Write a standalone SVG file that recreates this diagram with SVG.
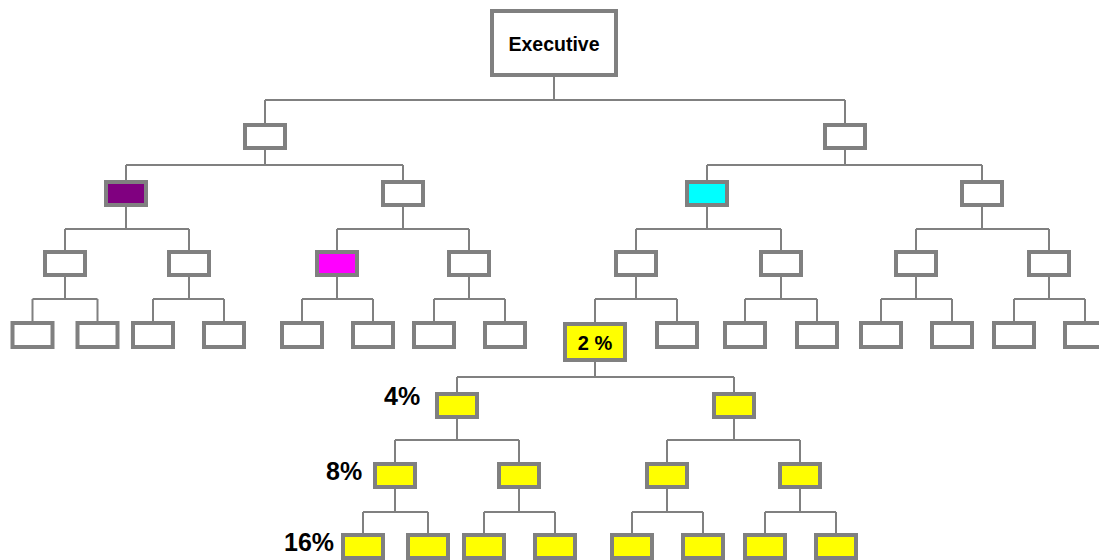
<svg xmlns="http://www.w3.org/2000/svg" width="1099" height="560" viewBox="0 0 1099 560">
<style>
.b{fill:#fff;stroke:#808080;stroke-width:4}
.y{fill:#ffff00}
.p{fill:#800080}
.m{fill:#ff00ff}
.c{fill:#00ffff}
.ln{fill:none;stroke:#808080;stroke-width:2}
.t{font-family:"Liberation Sans",Arial,sans-serif;font-weight:bold;fill:#000}
</style>
<rect width="1099" height="560" fill="#fff"/>
<g id="connectors" class="ln">
<path d="M554 77V100M265 100H845M265 100V123M845 100V123"/>
<path d="M265 150V165M126 165H403M126 165V180M403 165V180"/>
<path d="M845 150V165M707 165H982M707 165V180M982 165V180"/>
<path d="M126 207V229M65 229H189M65 229V250M189 229V250"/>
<path d="M403 207V229M337 229H469M337 229V250M469 229V250"/>
<path d="M707 207V229M636 229H781M636 229V250M781 229V250"/>
<path d="M982 207V229M916 229H1049M916 229V250M1049 229V250"/>
<path d="M65 277V299M32.5 299H97.5M32.5 299V321M97.5 299V321"/>
<path d="M189 277V299M153 299H224M153 299V321M224 299V321"/>
<path d="M337 277V299M302 299H373M302 299V321M373 299V321"/>
<path d="M469 277V299M434 299H505M434 299V321M505 299V321"/>
<path d="M636 277V299M595 299H677M595 299V322M677 299V321"/>
<path d="M781 277V299M745 299H817M745 299V321M817 299V321"/>
<path d="M916 277V299M881 299H952M881 299V321M952 299V321"/>
<path d="M1049 277V299M1014 299H1085M1014 299V321M1085 299V321"/>
<path d="M595 362V377M457 377H734M457 377V392M734 377V392"/>
<path d="M457 419V440M395 440H519M395 440V462M519 440V462"/>
<path d="M734 419V440M667 440H800M667 440V462M800 440V462"/>
<path d="M395 489V512M363 512H428M363 512V533M428 512V533"/>
<path d="M519 489V512M484 512H555M484 512V533M555 512V533"/>
<path d="M667 489V512M632 512H703M632 512V533M703 512V533"/>
<path d="M800 489V512M765 512H836M765 512V533M836 512V533"/>
</g>
<g id="executive"><rect class="b" x="492" y="11" width="124" height="64"/><text class="t" x="554" y="51" font-size="19.5" text-anchor="middle">Executive</text></g>
<g id="n1a"><rect class="b" x="245" y="125" width="40" height="23"/></g>
<g id="n1b"><rect class="b" x="825" y="125" width="40" height="23"/></g>
<g id="n2a"><rect class="b p" x="106" y="182" width="40" height="23"/></g>
<g id="n2b"><rect class="b" x="383" y="182" width="40" height="23"/></g>
<g id="n2c"><rect class="b c" x="687" y="182" width="40" height="23"/></g>
<g id="n2d"><rect class="b" x="962" y="182" width="40" height="23"/></g>
<g id="n3a"><rect class="b" x="45" y="252" width="40" height="23"/></g>
<g id="n3b"><rect class="b" x="169" y="252" width="40" height="23"/></g>
<g id="n3c"><rect class="b m" x="317" y="252" width="40" height="23"/></g>
<g id="n3d"><rect class="b" x="449" y="252" width="40" height="23"/></g>
<g id="n3e"><rect class="b" x="616" y="252" width="40" height="23"/></g>
<g id="n3f"><rect class="b" x="761" y="252" width="40" height="23"/></g>
<g id="n3g"><rect class="b" x="896" y="252" width="40" height="23"/></g>
<g id="n3h"><rect class="b" x="1029" y="252" width="40" height="23"/></g>
<g id="n4a"><rect class="b" x="12.5" y="323" width="40" height="24"/></g>
<g id="n4b"><rect class="b" x="77.5" y="323" width="40" height="24"/></g>
<g id="n4c"><rect class="b" x="133" y="323" width="40" height="24"/></g>
<g id="n4d"><rect class="b" x="204" y="323" width="40" height="24"/></g>
<g id="n4e"><rect class="b" x="282" y="323" width="40" height="24"/></g>
<g id="n4f"><rect class="b" x="353" y="323" width="40" height="24"/></g>
<g id="n4g"><rect class="b" x="414" y="323" width="40" height="24"/></g>
<g id="n4h"><rect class="b" x="485" y="323" width="40" height="24"/></g>
<g id="n4i"><rect class="b y" x="565" y="324" width="60" height="36"/><text class="t" x="595" y="350" font-size="20" text-anchor="middle">2 %</text></g>
<g id="n4j"><rect class="b" x="657" y="323" width="40" height="24"/></g>
<g id="n4k"><rect class="b" x="725" y="323" width="40" height="24"/></g>
<g id="n4l"><rect class="b" x="797" y="323" width="40" height="24"/></g>
<g id="n4m"><rect class="b" x="861" y="323" width="40" height="24"/></g>
<g id="n4n"><rect class="b" x="932" y="323" width="40" height="24"/></g>
<g id="n4o"><rect class="b" x="994" y="323" width="40" height="24"/></g>
<g id="n4p"><rect class="b" x="1065" y="323" width="40" height="24"/></g>
<g id="n5a"><rect class="b y" x="437" y="394" width="40" height="23"/></g>
<g id="n5b"><rect class="b y" x="714" y="394" width="40" height="23"/></g>
<g id="n6a"><rect class="b y" x="375" y="464" width="40" height="23"/></g>
<g id="n6b"><rect class="b y" x="499" y="464" width="40" height="23"/></g>
<g id="n6c"><rect class="b y" x="647" y="464" width="40" height="23"/></g>
<g id="n6d"><rect class="b y" x="780" y="464" width="40" height="23"/></g>
<g id="n7a"><rect class="b y" x="343" y="535" width="40" height="23"/></g>
<g id="n7b"><rect class="b y" x="408" y="535" width="40" height="23"/></g>
<g id="n7c"><rect class="b y" x="464" y="535" width="40" height="23"/></g>
<g id="n7d"><rect class="b y" x="535" y="535" width="40" height="23"/></g>
<g id="n7e"><rect class="b y" x="612" y="535" width="40" height="23"/></g>
<g id="n7f"><rect class="b y" x="683" y="535" width="40" height="23"/></g>
<g id="n7g"><rect class="b y" x="745" y="535" width="40" height="23"/></g>
<g id="n7h"><rect class="b y" x="816" y="535" width="40" height="23"/></g>
<g id="labels">
<text class="t" x="384" y="405" font-size="25">4%</text>
<text class="t" x="326" y="480" font-size="25">8%</text>
<text class="t" x="284" y="551" font-size="25">16%</text>
</g>
</svg>
